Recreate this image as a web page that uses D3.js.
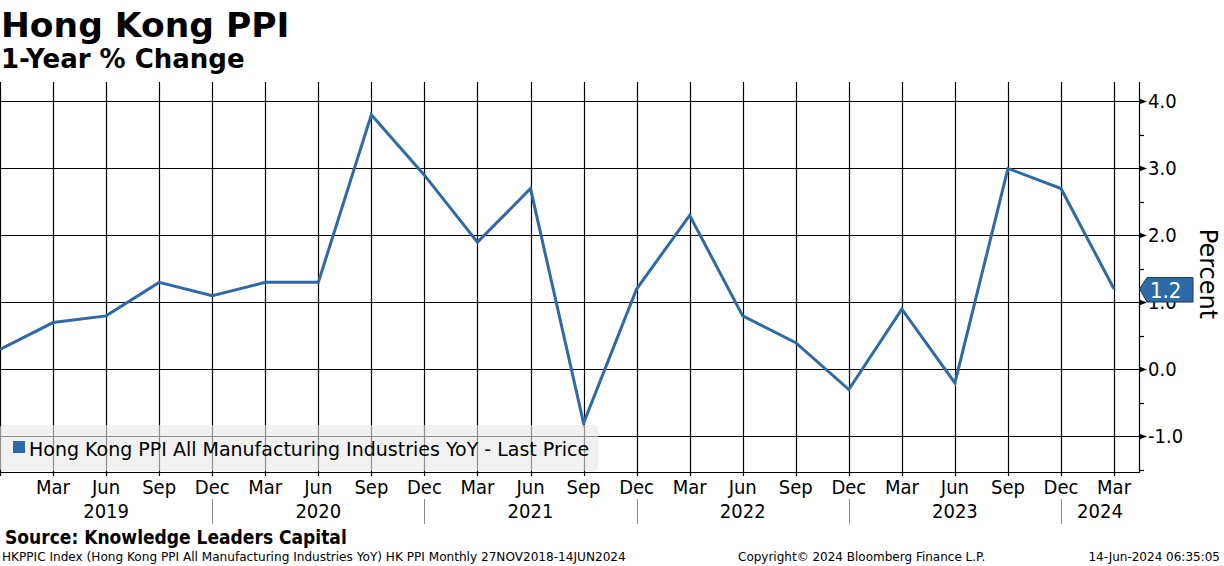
<!DOCTYPE html>
<html>
<head>
<meta charset="utf-8">
<script src="https://cdn.jsdelivr.net/npm/d3@7"></script>
<style>
  html, body { margin: 0; padding: 0; background: #fff; }
  svg { display: block; }
  text { font-family: 'DejaVu Sans Condensed', 'DejaVu Sans', sans-serif; fill: #000; }
  text.reg { font-family: 'DejaVu Sans', sans-serif; }
</style>
</head>
<body>
<svg id="chart" width="1224" height="566"></svg>
<script>
// ---- data ----
const quarters = ["Dec","Mar","Jun","Sep","Dec","Mar","Jun","Sep","Dec","Mar","Jun","Sep","Dec","Mar","Jun","Sep","Dec","Mar","Jun","Sep","Dec","Mar"];
const years = ["2018","2019","2019","2019","2019","2020","2020","2020","2020","2021","2021","2021","2021","2022","2022","2022","2022","2023","2023","2023","2023","2024"];
const values = [0.3, 0.7, 0.8, 1.3, 1.1, 1.3, 1.3, 3.8, 2.9, 1.9, 2.7, -0.8, 1.2, 2.3, 0.8, 0.4, -0.3, 0.9, -0.2, 3.0, 2.7, 1.2];
const yTicks = [4.0, 3.0, 2.0, 1.0, 0.0, -1.0];
const yearLabels = ["2019","2020","2021","2022","2023","2024"];
const seriesName = "Hong Kong PPI All Manufacturing Industries YoY - Last Price";

const BLUE = "#2e6aa5";
const svg = d3.select("#chart");

const plot = { left: 0, right: 1139, top: 82, bottom: 472 };
const xMax = 21.47;
const x = d3.scaleLinear().domain([0, xMax]).range([plot.left, plot.right]);
const y = d3.scaleLinear().domain([-1.53, 4.29]).range([plot.bottom, plot.top]);

const idx = d3.range(values.length);

// ---- grid ----
const grid = svg.append("g");
grid.selectAll("line.v").data(idx).enter().append("line")
  .attr("x1", d => Math.round(x(d)) + 0.5).attr("x2", d => Math.round(x(d)) + 0.5)
  .attr("y1", plot.top).attr("y2", plot.bottom)
  .attr("stroke", "#000").attr("stroke-width", 1.2);
grid.selectAll("line.h").data(yTicks).enter().append("line")
  .attr("x1", plot.left).attr("x2", plot.right)
  .attr("y1", d => Math.round(y(d)) + 0.5).attr("y2", d => Math.round(y(d)) + 0.5)
  .attr("stroke", "#000").attr("stroke-width", 1.2);

// ---- line ----
const line = d3.line().x((d, i) => x(i)).y(d => y(d));
svg.append("path").datum(values)
  .attr("d", line).attr("fill", "none")
  .attr("stroke", BLUE).attr("stroke-width", 3).attr("stroke-linejoin", "miter");

// ---- legend ----
const leg = svg.append("g");
leg.append("rect").attr("x", 0).attr("y", 425).attr("width", 598).attr("height", 46)
  .attr("rx", 3).attr("fill", "#e8e8e8").attr("fill-opacity", 0.62);
leg.append("rect").attr("x", 13).attr("y", 441).attr("width", 12).attr("height", 12).attr("fill", BLUE);
leg.append("text").attr("class", "reg").attr("x", 29).attr("y", 456).attr("font-size", 19).text(seriesName);

// ---- bottom axis ----
const bx = svg.append("g");
bx.append("line").attr("x1", 0).attr("x2", plot.right + 0.5)
  .attr("y1", plot.bottom + 0.5).attr("y2", plot.bottom + 0.5).attr("stroke", "#000").attr("stroke-width", 1.2);
bx.selectAll("line.t").data(idx).enter().append("line")
  .attr("x1", d => Math.round(x(d)) + 0.5).attr("x2", d => Math.round(x(d)) + 0.5)
  .attr("y1", plot.bottom).attr("y2", plot.bottom + 4).attr("stroke", "#000").attr("stroke-width", 1.2);
bx.selectAll("text.q").data(idx.slice(1)).enter().append("text")
  .attr("x", d => x(d)).attr("y", 494).attr("text-anchor", "middle").attr("font-size", 20)
  .text(d => quarters[d]);
// year separators at Dec quarters (after first)
const decIdx = idx.filter(i => quarters[i] === "Dec" && i > 0);
bx.selectAll("line.sep").data(decIdx).enter().append("line")
  .attr("x1", d => Math.round(x(d)) + 0.5).attr("x2", d => Math.round(x(d)) + 0.5)
  .attr("y1", 499).attr("y2", 524).attr("stroke", "#8a8a8a").attr("stroke-width", 1);
// year label centres
const yearCenters = yearLabels.map(yr => {
  const ii = idx.filter(i => years[i] === yr);
  const lo = ii[0] - 1;
  const hi = yr === yearLabels[yearLabels.length - 1] ? xMax : ii[ii.length - 1];
  return { yr, c: (lo + hi) / 2 };
});
bx.selectAll("text.yr").data(yearCenters).enter().append("text")
  .attr("x", d => x(d.c)).attr("y", 518).attr("text-anchor", "middle").attr("font-size", 20)
  .text(d => d.yr);

// ---- right axis ----
const ry = svg.append("g");
ry.append("line").attr("x1", plot.right + 0.5).attr("x2", plot.right + 0.5)
  .attr("y1", plot.top).attr("y2", plot.bottom + 1).attr("stroke", "#000").attr("stroke-width", 1.2);
const minor = d3.range(-1.5, 4.01, 0.5).filter(v => Math.abs(v - Math.round(v)) > 0.01);
ry.selectAll("line.mi").data(minor).enter().append("line")
  .attr("x1", plot.right).attr("x2", plot.right + 5)
  .attr("y1", d => Math.round(y(d)) + 0.5).attr("y2", d => Math.round(y(d)) + 0.5)
  .attr("stroke", "#000").attr("stroke-width", 1.2);
ry.selectAll("path.arr").data(yTicks).enter().append("path")
  .attr("d", d => { const yy = Math.round(y(d)) + 0.5; return `M${plot.right},${yy - 3}L${plot.right + 8},${yy}L${plot.right},${yy + 3}Z`; })
  .attr("fill", "#000");
ry.selectAll("text.yl").data(yTicks).enter().append("text")
  .attr("x", plot.right + 9).attr("y", d => y(d) + 7).attr("font-size", 20)
  .text(d => d.toFixed(1));
svg.append("text").attr("class", "reg").attr("transform", `translate(1200,${(plot.top + plot.bottom) / 2 - 3}) rotate(90)`)
  .attr("text-anchor", "middle").attr("font-size", 24).text("Percent");

// last value tag
const lastV = values[values.length - 1];
const ly = y(lastV);
svg.append("path")
  .attr("d", `M${plot.right + 0.5},${ly}L${plot.right + 8},${ly - 11.5}L${plot.right + 54},${ly - 11.5}L${plot.right + 54},${ly + 13}L${plot.right + 8},${ly + 13}Z`)
  .attr("fill", BLUE).attr("stroke", "#1b3a5c").attr("stroke-width", 1);
svg.append("text").attr("x", plot.right + 11).attr("y", ly + 9).attr("font-size", 22)
  .style("fill", "#fff").text(lastV.toFixed(1));

// ---- titles ----
svg.append("text").attr("class", "reg").attr("x", 1).attr("y", 37).attr("font-size", 34.5).attr("font-weight", "bold").text("Hong Kong PPI");
svg.append("text").attr("class", "reg").attr("x", 1).attr("y", 68).attr("font-size", 26).attr("font-weight", "bold").text("1-Year % Change");

// ---- footer ----
svg.append("text").attr("x", 5).attr("y", 544).attr("font-size", 19).attr("font-weight", "bold").text("Source: Knowledge Leaders Capital");
svg.append("text").attr("class", "reg").attr("x", 2).attr("y", 561).attr("font-size", 12.1)
  .text("HKPPIC Index (Hong Kong PPI All Manufacturing Industries YoY) HK PPI  Monthly 27NOV2018-14JUN2024");
svg.append("text").attr("class", "reg").attr("x", 738).attr("y", 561).attr("font-size", 12).text("Copyright\u00A9 2024 Bloomberg Finance L.P.");
svg.append("text").attr("class", "reg").attr("x", 1220).attr("y", 561).attr("font-size", 12).attr("text-anchor", "end").text("14-Jun-2024 06:35:05");
</script>
</body>
</html>
